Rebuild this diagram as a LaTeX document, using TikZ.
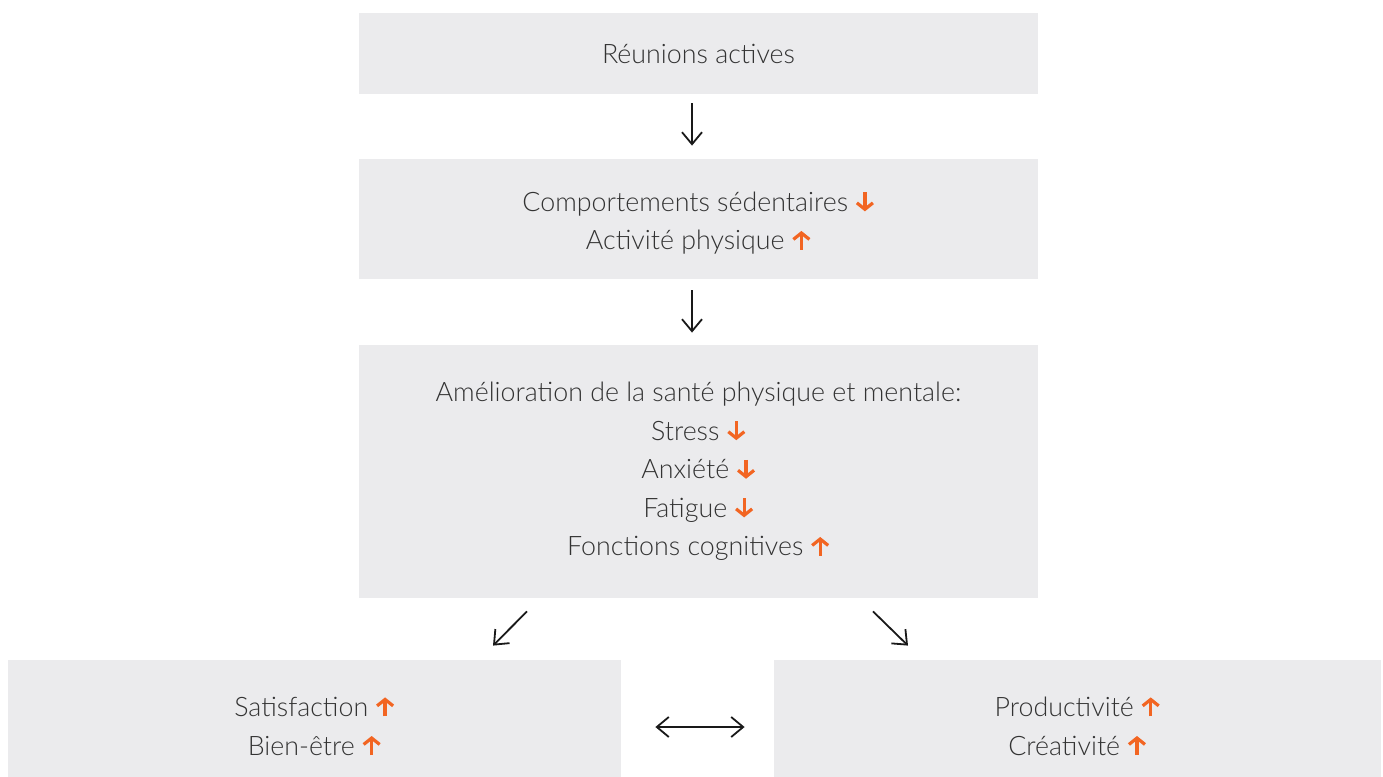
\documentclass[tikz,border=0pt]{standalone}
\usepackage{fontspec}
\setmainfont{Lato Light}
\usetikzlibrary{arrows.meta,calc}
\definecolor{boxgray}{HTML}{EBEBED}
\definecolor{flecheor}{HTML}{F26522}
\definecolor{texte}{HTML}{333333}
\newcommand{\hausse}{\ \tikz[x=1pt, y=1pt, baseline=0pt]
  \draw[flecheor, line width=1.6pt, -{Straight Barb[length=3.2pt, width=8pt]}] (0, 0) -- (0, 9.5);}
\newcommand{\baisse}{\ \tikz[x=1pt, y=1pt, baseline=0pt]
  \draw[flecheor, line width=1.6pt, -{Straight Barb[length=3.2pt, width=8pt]}] (0, 9.5) -- (0, 0);}
\tikzset{
  boite/.style={fill=boxgray, draw=none, inner sep=0pt, align=center,
    text=texte, font=\fontsize{13.4pt}{19.3pt}\selectfont},
  fleche/.style={draw=black!90, line width=0.9pt,
    -{Straight Barb[length=6pt, width=10pt]}},
  double fleche/.style={fleche, {Straight Barb[length=6pt, width=10pt]}-{Straight Barb[length=6pt, width=10pt]}}
}
\begin{document}
\begin{tikzpicture}[x=0.5pt, y=-0.5pt]
      \useasboundingbox (0, 0) rectangle (1383, 777);
      \node[boite, minimum width=339.5pt, minimum height=40.5pt] (reunions) at (698.5, 53.5) {Réunions actives};
      \node[boite, minimum width=339.5pt, minimum height=60pt] (comport) at (698.5, 219)
        {\rule{0pt}{14pt}Comportements sédentaires\baisse\\ Activité physique\hausse};
      \node[boite, minimum width=339.5pt, minimum height=126.5pt] (sante) at (698.5, 471.5)
        {Amélioration de la santé physique et mentale:\\ Stress\baisse\\ Anxiété\baisse\\ Fatigue\baisse\\ Fonctions cognitives\hausse};
      \node[boite, minimum width=306.5pt, minimum height=58.5pt] (satisf) at (314.5, 718.5)
        {\rule{0pt}{18pt}Satisfaction\hausse\\ Bien-être\hausse};
      \node[boite, minimum width=303.5pt, minimum height=58.5pt] (product) at (1077.5, 718.5)
        {\rule{0pt}{18pt}Productivité\hausse\\ Créativité\hausse};
      \draw[fleche] ($(reunions.south)+(-6.5, 9)$) -- ($(comport.north)+(-6.5, -13)$);
      \draw[fleche] ($(comport.south)+(-6.5, 11)$) -- ($(sante.north)+(-6.5, -12)$);
      \draw[fleche] ($(sante.south)+(-171.5, 13)$) -- ($(satisf.north)+(178.5, -14)$);
      \draw[fleche] ($(sante.south)+(174.5, 13)$) -- ($(product.north)+(-169.5, -14)$);
      \draw[double fleche] ($(satisf.east)+(34, 8.5)$) -- ($(product.west)+(-29, 8.5)$);
    \end{tikzpicture}
\end{document}
